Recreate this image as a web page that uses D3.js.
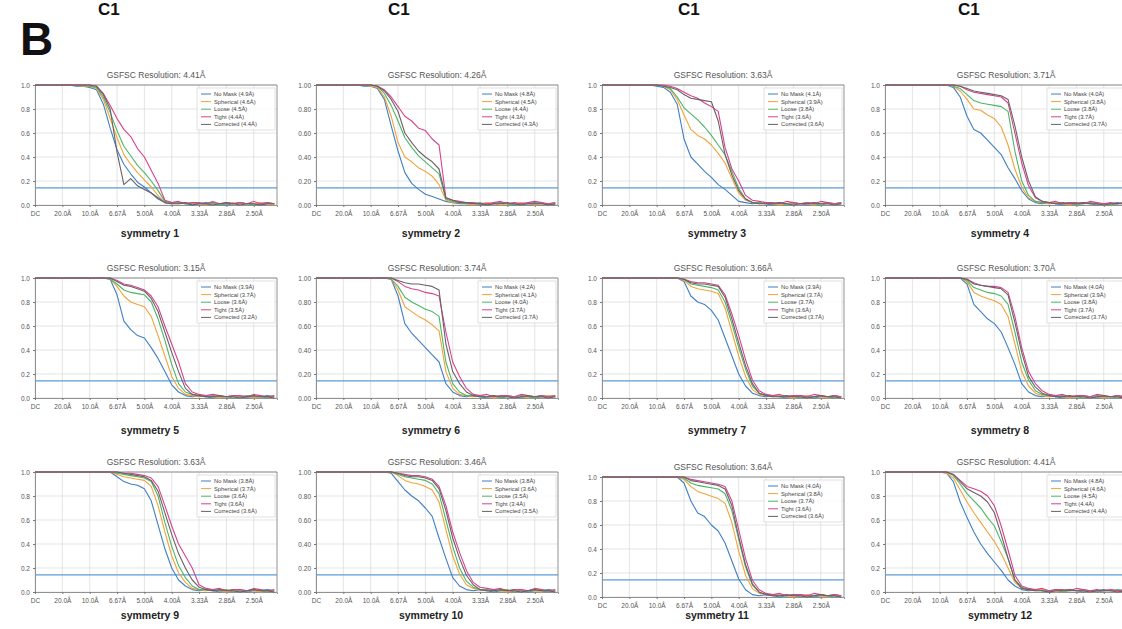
<!DOCTYPE html>
<html><head><meta charset="utf-8">
<script src="https://cdn.jsdelivr.net/npm/d3@7"></script>
<style>body{margin:0;background:#fff}svg{display:block}</style>
</head><body>
<svg id="chart" width="1122" height="629"></svg>
<script>
// ---------- DATA ----------
const symmetryLabels = ["symmetry 1","symmetry 2","symmetry 3","symmetry 4","symmetry 5","symmetry 6","symmetry 7","symmetry 8","symmetry 9","symmetry 10","symmetry 11","symmetry 12"];
const titleRes = ["4.41Å","4.26Å","3.63Å","3.71Å","3.15Å","3.74Å","3.66Å","3.70Å","3.63Å","3.46Å","3.64Å","4.41Å"];
const seriesNames = ["No Mask","Spherical","Loose","Tight","Corrected"];
const noMaskRes    = [4.9,4.8,4.1,4.0,3.9,4.2,3.9,4.0,3.8,3.8,4.0,4.8];
const sphericalRes = [4.6,4.5,3.9,3.8,3.7,4.1,3.7,3.9,3.7,3.6,3.8,4.6];
const looseRes     = [4.5,4.4,3.8,3.8,3.6,4.0,3.7,3.8,3.6,3.5,3.7,4.5];
const tightRes     = [4.4,4.3,3.6,3.7,3.5,3.7,3.6,3.7,3.6,3.4,3.6,4.4];
const correctedRes = [4.4,4.3,3.6,3.7,3.2,3.7,3.7,3.7,3.6,3.5,3.6,4.4];
const headerLetters = ["C1","C1","C1","C1"];
const xTickValues = [0,0.05,0.1,0.15,0.2,0.25,0.3,0.35,0.4];
const xTickLabels = ["DC","20.0Å","10.0Å","6.67Å","5.00Å","4.00Å","3.33Å","2.86Å","2.50Å"];
const yTickValues = [0,0.2,0.4,0.6,0.8,1.0];
const yTickDecimals = [1,2,1,1,1,2,1,1,1,2,1,1];
const thresholdFSC = 0.143;
const xFreq = [0,0.0125,0.025,0.0375,0.05,0.0625,0.075,0.0875,0.1,0.1125,0.125,0.1375,0.15,0.1625,0.175,0.1875,0.2,0.2125,0.225,0.2375,0.25,0.2625,0.275,0.2875,0.3,0.3125,0.325,0.3375,0.35,0.3625,0.375,0.3875,0.4,0.4125,0.425,0.4375];

const noMaskFSC = [
[1,1,1,1,1,1,0.99,0.99,0.98,0.96,0.84,0.64,0.46,0.34,0.26,0.19,0.15,0.10,0.05,0.02,0.01,0.02,0.01,0.00,0.01,0.02,0.01,0.01,0.00,0.01,0.02,0.01,0.01,0.00,0.01,0.01],
[1,1,1,1,1,1,1,0.99,0.99,0.97,0.88,0.66,0.45,0.27,0.18,0.13,0.09,0.07,0.05,0.03,0.02,0.01,0.01,0.02,0.00,0.01,0.01,0.02,0.01,0.00,0.01,0.01,0.02,0.01,0.01,0.00],
[1,1,1,1,1,1,1,1,0.99,0.98,0.94,0.84,0.55,0.40,0.34,0.28,0.23,0.17,0.13,0.08,0.03,0.02,0.01,0.02,0.01,0.00,0.01,0.01,0.02,0.01,0.00,0.01,0.01,0.02,0.01,0.01],
[1,1,1,1,1,1,1,1,1,1,0.98,0.90,0.74,0.63,0.60,0.54,0.48,0.42,0.31,0.22,0.12,0.05,0.02,0.01,0.02,0.01,0.00,0.01,0.01,0.02,0.01,0.00,0.01,0.01,0.02,0.01],
[1,1,1,1,1,1,1,1,1,1,1,0.99,0.86,0.64,0.57,0.52,0.50,0.42,0.33,0.22,0.11,0.05,0.02,0.01,0.02,0.01,0.00,0.01,0.01,0.02,0.01,0.00,0.01,0.01,0.02,0.01],
[1,1,1,1,1,1,1,1,1,1,1,0.99,0.85,0.62,0.54,0.48,0.42,0.36,0.30,0.12,0.05,0.02,0.01,0.02,0.01,0.00,0.01,0.01,0.02,0.01,0.00,0.01,0.01,0.02,0.01,0.01],
[1,1,1,1,1,1,1,1,1,1,1,1,0.97,0.85,0.80,0.78,0.73,0.65,0.50,0.35,0.20,0.10,0.04,0.02,0.01,0.02,0.01,0.00,0.01,0.02,0.01,0.00,0.01,0.01,0.02,0.01],
[1,1,1,1,1,1,1,1,1,1,1,1,0.95,0.78,0.72,0.66,0.62,0.55,0.42,0.28,0.12,0.05,0.02,0.01,0.02,0.01,0.00,0.01,0.01,0.02,0.01,0.00,0.01,0.01,0.02,0.01],
[1,1,1,1,1,1,1,1,1,1,1,1,0.96,0.92,0.90,0.89,0.86,0.76,0.56,0.36,0.20,0.10,0.05,0.02,0.01,0.02,0.01,0.00,0.01,0.02,0.01,0.00,0.01,0.01,0.02,0.01],
[1,1,1,1,1,1,1,1,1,1,1,0.99,0.92,0.85,0.80,0.76,0.70,0.63,0.45,0.28,0.12,0.05,0.02,0.01,0.02,0.01,0.00,0.01,0.01,0.02,0.01,0.00,0.01,0.01,0.02,0.01],
[1,1,1,1,1,1,1,1,1,1,1,1,0.95,0.80,0.70,0.67,0.60,0.55,0.45,0.30,0.15,0.06,0.02,0.01,0.02,0.01,0.00,0.01,0.01,0.02,0.01,0.00,0.01,0.01,0.02,0.01],
[1,1,1,1,1,1,1,1,1,0.99,0.92,0.75,0.62,0.50,0.40,0.32,0.25,0.18,0.10,0.05,0.02,0.01,0.02,0.01,0.00,0.01,0.01,0.02,0.01,0.00,0.01,0.01,0.02,0.01,0.01,0.00]
];
const sphericalFSC = [
[1,1,1,1,1,1,1,0.99,0.99,0.97,0.88,0.72,0.56,0.42,0.34,0.27,0.21,0.15,0.08,0.02,0.02,0.01,0.02,0.01,0.01,0.00,0.02,0.01,0.01,0.02,0.00,0.01,0.01,0.02,0.01,0.00],
[1,1,1,1,1,1,1,1,0.99,0.98,0.90,0.74,0.52,0.40,0.36,0.31,0.28,0.24,0.17,0.04,0.02,0.02,0.01,0.00,0.01,0.02,0.01,0.00,0.01,0.01,0.02,0.01,0.00,0.01,0.01,0.02],
[1,1,1,1,1,1,1,1,1,0.99,0.96,0.88,0.75,0.63,0.58,0.55,0.50,0.43,0.35,0.22,0.10,0.04,0.02,0.01,0.02,0.01,0.00,0.01,0.02,0.01,0.01,0.00,0.01,0.02,0.01,0.01],
[1,1,1,1,1,1,1,1,1,1,0.99,0.95,0.88,0.80,0.79,0.75,0.72,0.65,0.50,0.30,0.15,0.06,0.03,0.02,0.01,0.02,0.01,0.00,0.01,0.02,0.01,0.01,0.00,0.01,0.01,0.02],
[1,1,1,1,1,1,1,1,1,1,1,0.99,0.93,0.85,0.80,0.78,0.76,0.68,0.52,0.35,0.18,0.08,0.03,0.02,0.01,0.02,0.01,0.00,0.01,0.02,0.01,0.01,0.00,0.01,0.01,0.02],
[1,1,1,1,1,1,1,1,1,1,1,0.99,0.90,0.76,0.72,0.68,0.65,0.61,0.56,0.22,0.08,0.03,0.02,0.01,0.02,0.01,0.00,0.01,0.02,0.01,0.01,0.00,0.01,0.01,0.02,0.01],
[1,1,1,1,1,1,1,1,1,1,1,1,0.98,0.93,0.91,0.90,0.89,0.87,0.75,0.55,0.35,0.18,0.07,0.03,0.02,0.01,0.02,0.01,0.00,0.01,0.02,0.01,0.01,0.00,0.01,0.01],
[1,1,1,1,1,1,1,1,1,1,1,1,0.97,0.88,0.85,0.83,0.81,0.78,0.68,0.45,0.22,0.10,0.04,0.02,0.01,0.02,0.01,0.00,0.01,0.02,0.01,0.01,0.00,0.01,0.01,0.02],
[1,1,1,1,1,1,1,1,1,1,1,1,0.98,0.96,0.95,0.94,0.93,0.88,0.72,0.50,0.30,0.16,0.08,0.03,0.02,0.01,0.02,0.01,0.00,0.01,0.02,0.01,0.01,0.00,0.01,0.01],
[1,1,1,1,1,1,1,1,1,1,1,1,0.97,0.93,0.91,0.90,0.88,0.85,0.75,0.52,0.30,0.15,0.06,0.03,0.02,0.01,0.02,0.01,0.00,0.01,0.02,0.01,0.01,0.00,0.01,0.01],
[1,1,1,1,1,1,1,1,1,1,1,1,0.98,0.92,0.88,0.86,0.84,0.82,0.78,0.62,0.38,0.18,0.07,0.03,0.02,0.01,0.02,0.01,0.00,0.01,0.02,0.01,0.01,0.00,0.01,0.01],
[1,1,1,1,1,1,1,1,1,0.99,0.95,0.85,0.75,0.66,0.58,0.50,0.42,0.32,0.20,0.08,0.03,0.02,0.01,0.02,0.01,0.00,0.01,0.02,0.01,0.01,0.00,0.01,0.01,0.02,0.01,0.01]
];
const looseFSC = [
[1,1,1,1,1,1,1,1,0.99,0.98,0.90,0.77,0.62,0.49,0.41,0.33,0.27,0.20,0.12,0.03,0.02,0.02,0.01,0.02,0.01,0.01,0.02,0.00,0.01,0.01,0.02,0.01,0.00,0.01,0.02,0.01],
[1,1,1,1,1,1,1,1,1,0.99,0.93,0.83,0.70,0.56,0.48,0.41,0.36,0.31,0.26,0.05,0.03,0.02,0.01,0.01,0.02,0.00,0.01,0.02,0.01,0.00,0.01,0.01,0.01,0.02,0.00,0.01],
[1,1,1,1,1,1,1,1,1,0.99,0.97,0.90,0.81,0.76,0.71,0.65,0.58,0.50,0.42,0.28,0.14,0.05,0.02,0.02,0.01,0.01,0.02,0.00,0.01,0.01,0.02,0.01,0.00,0.01,0.01,0.02],
[1,1,1,1,1,1,1,1,1,1,0.99,0.97,0.92,0.87,0.85,0.84,0.83,0.82,0.78,0.45,0.20,0.08,0.03,0.02,0.02,0.01,0.01,0.02,0.00,0.01,0.02,0.01,0.01,0.00,0.01,0.02],
[1,1,1,1,1,1,1,1,1,1,1,0.99,0.95,0.90,0.88,0.87,0.86,0.80,0.66,0.48,0.28,0.12,0.05,0.03,0.02,0.01,0.02,0.01,0.01,0.00,0.01,0.02,0.01,0.01,0.00,0.01],
[1,1,1,1,1,1,1,1,1,1,1,0.99,0.93,0.84,0.80,0.77,0.74,0.72,0.68,0.30,0.12,0.05,0.02,0.02,0.01,0.01,0.02,0.00,0.01,0.01,0.02,0.01,0.00,0.01,0.01,0.02],
[1,1,1,1,1,1,1,1,1,1,1,1,0.99,0.95,0.94,0.93,0.92,0.90,0.80,0.62,0.42,0.24,0.10,0.04,0.02,0.02,0.01,0.01,0.02,0.00,0.01,0.01,0.02,0.01,0.00,0.01],
[1,1,1,1,1,1,1,1,1,1,1,1,0.98,0.92,0.90,0.88,0.87,0.85,0.78,0.55,0.30,0.15,0.06,0.03,0.02,0.01,0.02,0.01,0.01,0.00,0.01,0.02,0.01,0.01,0.00,0.01],
[1,1,1,1,1,1,1,1,1,1,1,1,0.99,0.98,0.97,0.96,0.95,0.92,0.80,0.58,0.38,0.22,0.12,0.05,0.02,0.02,0.01,0.01,0.02,0.00,0.01,0.01,0.02,0.01,0.00,0.01],
[1,1,1,1,1,1,1,1,1,1,1,1,0.98,0.96,0.95,0.94,0.93,0.90,0.82,0.60,0.38,0.20,0.09,0.04,0.02,0.02,0.01,0.01,0.02,0.00,0.01,0.01,0.02,0.01,0.00,0.01],
[1,1,1,1,1,1,1,1,1,1,1,1,0.99,0.95,0.93,0.92,0.91,0.90,0.86,0.72,0.48,0.25,0.10,0.04,0.02,0.02,0.01,0.01,0.02,0.00,0.01,0.01,0.02,0.01,0.00,0.01],
[1,1,1,1,1,1,1,1,1,1,0.97,0.90,0.82,0.76,0.70,0.62,0.55,0.42,0.28,0.10,0.04,0.02,0.02,0.01,0.01,0.02,0.00,0.01,0.01,0.02,0.01,0.00,0.01,0.01,0.02,0.01]
];
const tightFSC = [
[1,1,1,1,1,1,1,1,1,0.99,0.93,0.83,0.72,0.63,0.57,0.47,0.40,0.29,0.18,0.04,0.02,0.03,0.01,0.02,0.02,0.01,0.03,0.01,0.02,0.01,0.02,0.01,0.03,0.01,0.02,0.01],
[1,1,1,1,1,1,1,1,1,0.99,0.96,0.90,0.82,0.74,0.70,0.64,0.62,0.55,0.50,0.06,0.04,0.03,0.02,0.02,0.01,0.01,0.02,0.03,0.01,0.02,0.01,0.02,0.03,0.02,0.01,0.02],
[1,1,1,1,1,1,1,1,1,1,0.99,0.97,0.94,0.91,0.89,0.85,0.82,0.78,0.48,0.30,0.20,0.08,0.04,0.03,0.02,0.02,0.01,0.03,0.02,0.01,0.02,0.01,0.03,0.02,0.01,0.02],
[1,1,1,1,1,1,1,1,1,1,1,0.99,0.96,0.94,0.93,0.92,0.91,0.90,0.85,0.60,0.35,0.16,0.06,0.03,0.02,0.03,0.01,0.02,0.02,0.01,0.03,0.02,0.01,0.02,0.01,0.02],
[1,1,1,1,1,1,1,1,1,1,1,1,0.98,0.95,0.94,0.92,0.90,0.85,0.76,0.60,0.45,0.30,0.12,0.05,0.03,0.02,0.03,0.02,0.01,0.02,0.02,0.01,0.03,0.02,0.01,0.02],
[1,1,1,1,1,1,1,1,1,1,1,1,0.97,0.93,0.91,0.90,0.88,0.87,0.85,0.55,0.30,0.18,0.08,0.03,0.02,0.03,0.01,0.02,0.02,0.01,0.03,0.02,0.01,0.02,0.01,0.02],
[1,1,1,1,1,1,1,1,1,1,1,1,0.99,0.97,0.96,0.96,0.95,0.94,0.86,0.70,0.52,0.32,0.15,0.06,0.03,0.02,0.03,0.01,0.02,0.02,0.01,0.03,0.02,0.01,0.02,0.01],
[1,1,1,1,1,1,1,1,1,1,1,1,0.99,0.96,0.94,0.93,0.93,0.92,0.88,0.68,0.42,0.22,0.12,0.06,0.03,0.02,0.03,0.01,0.02,0.02,0.01,0.03,0.02,0.01,0.02,0.01],
[1,1,1,1,1,1,1,1,1,1,1,1,1,0.99,0.99,0.98,0.97,0.95,0.88,0.72,0.55,0.40,0.30,0.20,0.06,0.03,0.02,0.03,0.01,0.02,0.02,0.01,0.03,0.02,0.01,0.02],
[1,1,1,1,1,1,1,1,1,1,1,1,0.99,0.98,0.97,0.97,0.96,0.94,0.88,0.72,0.50,0.33,0.18,0.08,0.04,0.03,0.02,0.03,0.01,0.02,0.02,0.01,0.03,0.02,0.01,0.02],
[1,1,1,1,1,1,1,1,1,1,1,1,1,0.98,0.97,0.96,0.95,0.94,0.92,0.80,0.56,0.32,0.14,0.06,0.03,0.02,0.03,0.01,0.02,0.02,0.01,0.03,0.02,0.01,0.02,0.01],
[1,1,1,1,1,1,1,1,1,1,0.98,0.93,0.88,0.86,0.84,0.80,0.72,0.55,0.35,0.14,0.05,0.03,0.02,0.03,0.01,0.02,0.02,0.01,0.03,0.02,0.01,0.02,0.01,0.02,0.01,0.02]
];
const correctedFSC = [
[1,1,1,1,1,1,1,1,1,0.99,0.92,0.80,0.44,0.17,0.22,0.16,0.13,0.10,0.06,0.02,0.01,0.01,0.02,0.00,0.01,0.01,0.00,0.01,0.02,0.01,0.00,0.01,0.01,0.00,0.01,0.01],
[1,1,1,1,1,1,1,1,1,0.99,0.95,0.88,0.78,0.60,0.52,0.45,0.40,0.36,0.30,0.06,0.04,0.02,0.02,0.01,0.01,0.00,0.01,0.01,0.02,0.01,0.00,0.01,0.01,0.01,0.00,0.01],
[1,1,1,1,1,1,1,1,1,0.99,0.98,0.96,0.92,0.89,0.88,0.87,0.86,0.70,0.42,0.25,0.12,0.05,0.02,0.01,0.01,0.01,0.02,0.01,0.00,0.01,0.01,0.02,0.01,0.01,0.00,0.01],
[1,1,1,1,1,1,1,1,1,1,1,0.99,0.97,0.95,0.94,0.93,0.92,0.91,0.88,0.66,0.40,0.20,0.07,0.03,0.02,0.01,0.02,0.01,0.01,0.02,0.01,0.01,0.00,0.01,0.01,0.01],
[1,1,1,1,1,1,1,1,1,1,1,1,0.97,0.94,0.93,0.91,0.89,0.83,0.72,0.55,0.38,0.22,0.08,0.03,0.02,0.01,0.01,0.02,0.01,0.01,0.00,0.01,0.02,0.01,0.01,0.00],
[1,1,1,1,1,1,1,1,1,1,1,1,0.98,0.96,0.95,0.95,0.94,0.93,0.90,0.45,0.22,0.12,0.05,0.02,0.01,0.01,0.02,0.01,0.01,0.00,0.01,0.02,0.01,0.01,0.00,0.01],
[1,1,1,1,1,1,1,1,1,1,1,1,0.99,0.96,0.95,0.95,0.94,0.93,0.84,0.66,0.46,0.27,0.12,0.04,0.02,0.01,0.01,0.02,0.01,0.01,0.00,0.01,0.02,0.01,0.01,0.00],
[1,1,1,1,1,1,1,1,1,1,1,1,0.99,0.95,0.94,0.93,0.92,0.91,0.86,0.63,0.38,0.18,0.09,0.04,0.02,0.01,0.01,0.02,0.01,0.01,0.00,0.01,0.02,0.01,0.01,0.00],
[1,1,1,1,1,1,1,1,1,1,1,1,1,0.99,0.98,0.97,0.96,0.93,0.84,0.66,0.48,0.32,0.20,0.10,0.04,0.02,0.01,0.02,0.01,0.01,0.00,0.01,0.02,0.01,0.01,0.00],
[1,1,1,1,1,1,1,1,1,1,1,1,0.99,0.97,0.96,0.96,0.95,0.93,0.86,0.68,0.45,0.28,0.14,0.06,0.02,0.01,0.01,0.02,0.01,0.01,0.00,0.01,0.02,0.01,0.01,0.00],
[1,1,1,1,1,1,1,1,1,1,1,1,1,0.97,0.96,0.95,0.94,0.93,0.90,0.76,0.50,0.27,0.11,0.04,0.02,0.01,0.01,0.02,0.01,0.01,0.00,0.01,0.02,0.01,0.01,0.00],
[1,1,1,1,1,1,1,1,1,1,0.98,0.92,0.86,0.83,0.80,0.75,0.66,0.48,0.28,0.10,0.03,0.02,0.01,0.01,0.00,0.01,0.01,0.02,0.01,0.01,0.00,0.01,0.01,0.01,0.00,0.01]
];

// ---------- LAYOUT / STYLE ----------
const colors = ["#3f7fc4","#f2a33a","#4cb565","#d6428f","#6b6064"];
const colLeft = [35, 316, 602, 885];
const rowTop = [85, 278, 472];
const rowLabelY = [237, 434, 619];
const headerX = [98, 388, 678, 958];
const plotW = 242, plotH = 120;
const font = "'Liberation Sans', Arial, sans-serif";

const svg = d3.select("#chart").style("font-family", font);

// header remnants (from the figure part above) and the panel letter
headerLetters.forEach((t, i) => {
  svg.append("text").attr("x", headerX[i]).attr("y", 15).attr("font-size", 17)
    .attr("font-weight", "bold").attr("fill", "#111").text(t);
});
svg.append("text").attr("x", 20).attr("y", 55).attr("font-size", 46)
  .attr("font-weight", "bold").attr("fill", "#111").text("B");

const allSeries = [noMaskFSC, sphericalFSC, looseFSC, tightFSC, correctedFSC];
const allRes = [noMaskRes, sphericalRes, looseRes, tightRes, correctedRes];

for (let p = 0; p < 12; p++) {
  const col = p % 4, row = Math.floor(p / 4);
  const left = colLeft[col], top = rowTop[row] + (p === 10 ? 5 : 0);
  const x = d3.scaleLinear().domain([0, 0.4425]).range([left, left + plotW]);
  const y = d3.scaleLinear().domain([0, 1]).range([top + plotH, top]);
  const g = svg.append("g");

  // grid
  g.selectAll(".vg").data(xTickValues).join("line")
    .attr("x1", d => x(d)).attr("x2", d => x(d))
    .attr("y1", top).attr("y2", top + plotH)
    .attr("stroke", "#d9d9d9").attr("stroke-width", 0.7);
  g.selectAll(".hg").data(yTickValues).join("line")
    .attr("x1", left).attr("x2", left + plotW)
    .attr("y1", d => y(d)).attr("y2", d => y(d))
    .attr("stroke", "#d9d9d9").attr("stroke-width", 0.7);

  // axes
  const xAxis = d3.axisBottom(x).tickValues(xTickValues)
    .tickFormat((d, i) => xTickLabels[i]).tickSize(2).tickPadding(4);
  const gx = g.append("g").attr("transform", `translate(0,${top + plotH})`).call(xAxis);
  const yAxis = d3.axisLeft(y).tickValues(yTickValues)
    .tickFormat(d3.format(`.${yTickDecimals[p]}f`)).tickSize(2).tickPadding(3);
  const gy = g.append("g").attr("transform", `translate(${left},0)`).call(yAxis);
  [gx, gy].forEach(a => {
    a.select(".domain").attr("stroke", "#777").attr("stroke-width", 0.8);
    a.selectAll(".tick line").attr("stroke", "#777");
    a.selectAll("text").attr("font-size", 6.5).attr("fill", "#555").attr("font-family", font);
  });
  g.append("line").attr("x1", left).attr("x2", left + plotW).attr("y1", top).attr("y2", top)
    .attr("stroke", "#777").attr("stroke-width", 0.8);
  g.append("line").attr("x1", left + plotW).attr("x2", left + plotW).attr("y1", top).attr("y2", top + plotH)
    .attr("stroke", "#777").attr("stroke-width", 0.8);

  // 0.143 threshold
  g.append("line").attr("x1", left).attr("x2", left + plotW)
    .attr("y1", y(thresholdFSC)).attr("y2", y(thresholdFSC))
    .attr("stroke", "#5b9bd5").attr("stroke-width", 1.1);

  // curves
  const line = d3.line().x((d, i) => x(xFreq[i])).y(d => y(d));
  allSeries.forEach((s, k) => {
    g.append("path").datum(s[p]).attr("d", line)
      .attr("fill", "none").attr("stroke", colors[k]).attr("stroke-width", 1.1)
      .attr("stroke-linejoin", "round");
  });

  // title
  g.append("text").attr("x", left + plotW / 2).attr("y", top - 7)
    .attr("text-anchor", "middle").attr("font-size", 8.5).attr("fill", "#555")
    .text(`GSFSC Resolution: ${titleRes[p]}`);

  // legend
  const lw = 78, lx = left + plotW - lw - 2, ly = top + 3;
  g.append("rect").attr("x", lx).attr("y", ly).attr("width", lw).attr("height", 42)
    .attr("fill", "#fff").attr("fill-opacity", 0.85).attr("stroke", "#ccc").attr("stroke-width", 0.6);
  seriesNames.forEach((n, k) => {
    const yy = ly + 6 + k * 7.6;
    g.append("line").attr("x1", lx + 4).attr("x2", lx + 14).attr("y1", yy).attr("y2", yy)
      .attr("stroke", colors[k]).attr("stroke-width", 1);
    g.append("text").attr("x", lx + 17).attr("y", yy + 2).attr("font-size", 5.8)
      .attr("fill", "#444").text(`${n} (${allRes[k][p].toFixed(1)}Å)`);
  });

  // symmetry label
  g.append("text").attr("x", left + plotW / 2 - 6).attr("y", rowLabelY[row])
    .attr("text-anchor", "middle").attr("font-size", 10.5).attr("font-weight", "bold")
    .attr("fill", "#222").text(symmetryLabels[p]);
}
</script>
</body></html>
